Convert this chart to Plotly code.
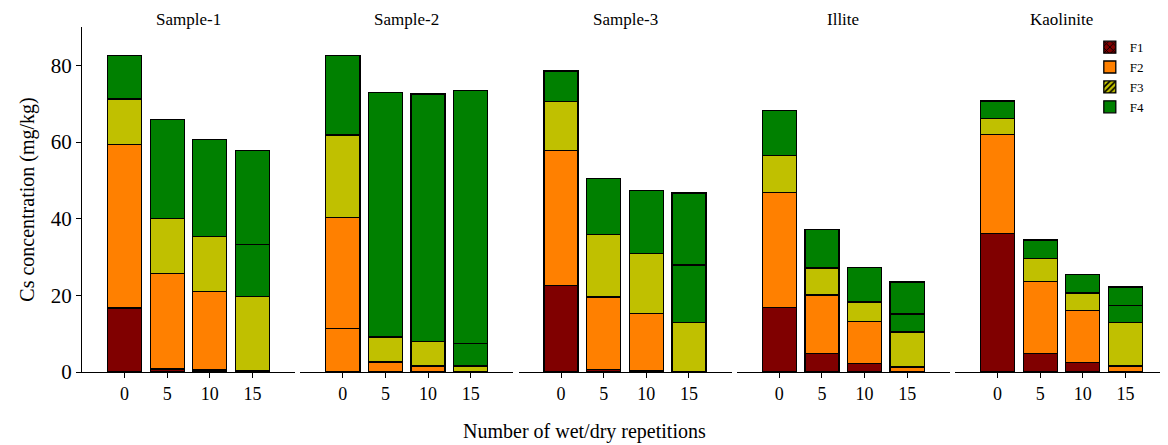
import plotly.graph_objects as go

# ---------------- data ----------------
categories = ["0", "5", "10", "15"]
panels = ["Sample-1", "Sample-2", "Sample-3", "Illite", "Kaolinite"]
fractions = ["F1", "F2", "F3", "F4"]

F1 = {
    "Sample-1": [16.7, 0.8, 0.5, 0.3],
    "Sample-2": [11.3, 0.0, 0.0, 0.0],
    "Sample-3": [22.6, 0.7, 0.3, 0.2],
    "Illite": [16.8, 4.8, 2.3, 1.3],
    "Kaolinite": [36.1, 4.8, 2.5, 1.6],
}
F2 = {
    "Sample-1": [42.7, 24.9, 20.5, 19.4],
    "Sample-2": [29.0, 2.6, 1.6, 1.6],
    "Sample-3": [35.2, 18.9, 14.9, 12.8],
    "Illite": [30.1, 15.3, 10.8, 9.1],
    "Kaolinite": [25.9, 18.9, 13.5, 11.4],
}
F3 = {
    "Sample-1": [11.8, 14.3, 14.3, 13.5],
    "Sample-2": [21.5, 6.5, 6.3, 5.8],
    "Sample-3": [12.8, 16.3, 15.8, 14.9],
    "Illite": [9.6, 7.0, 5.2, 4.7],
    "Kaolinite": [4.1, 6.0, 4.6, 4.3],
}
F4 = {
    "Sample-1": [11.4, 25.9, 25.4, 24.6],
    "Sample-2": [20.8, 63.9, 64.6, 66.0],
    "Sample-3": [7.9, 14.5, 16.4, 18.8],
    "Illite": [11.7, 10.1, 9.0, 8.4],
    "Kaolinite": [4.6, 4.7, 4.9, 4.9],
}
values = {"F1": F1, "F2": F2, "F3": F3, "F4": F4}

# colour in which each segment is drawn in the original figure
normal_cols = {"F1": ["F1", "F1", "F1", "F2"],
               "F2": ["F2", "F2", "F2", "F3"],
               "F3": ["F3", "F3", "F3", "F4"],
               "F4": ["F4", "F4", "F4", "F4"]}
drawn_as = {p: dict(normal_cols) for p in panels}
drawn_as["Sample-2"] = dict(normal_cols, F1=["F2", "F1", "F1", "F2"])

COLORS = {"F1": "#800000", "F2": "#FF8000", "F3": "#C0C000", "F4": "#008000"}

x_title = "Number of wet/dry repetitions"
y_title = "Cs concentration (mg/kg)"

# ---------------- figure ----------------
FONT = "Liberation Serif, Times New Roman, serif"
# page body has an 8px margin -> figure is 8px smaller than the window
W, H = 1160, 437
ml, mr, mt, mb = 74, 0, 19, 73
plot_w = W - ml - mr
plot_h = H - mt - mb
gap_px = 5.25
panel_px = (plot_w - 4 * gap_px) / 5

fig = go.Figure()
layout = dict(
    width=W, height=H,
    margin=dict(l=ml, r=mr, t=mt, b=mb),
    plot_bgcolor="white", paper_bgcolor="white",
    barmode="stack", bargap=0.2,
    font=dict(family=FONT, color="black"),
    showlegend=True,
    legend=dict(x=0.928, y=0.985, xanchor="left", yanchor="top",
                font=dict(size=13, family=FONT), bgcolor="rgba(0,0,0,0)",
                traceorder="normal", tracegroupgap=0, itemwidth=30),
)
annotations = []
for i, p in enumerate(panels):
    k = "" if i == 0 else str(i + 1)
    x0 = (i * (panel_px + gap_px)) / plot_w
    x1 = (i * (panel_px + gap_px) + panel_px) / plot_w
    layout["xaxis" + k] = dict(
        domain=[x0, x1], anchor="y" + k, type="category",
        categoryorder="array", categoryarray=categories,
        range=[-1, 4], showline=True, linecolor="black", linewidth=1,
        ticks="outside", ticklen=5, tickcolor="black",
        tickfont=dict(size=18, family=FONT), showgrid=False, zeroline=False,
    )
    ydict = dict(range=[0, 90], anchor="x" + k, showgrid=False, zeroline=False)
    if i == 0:
        ydict.update(showline=True, linecolor="black", linewidth=1,
                     ticks="outside", ticklen=5, tickcolor="black",
                     tickvals=[0, 20, 40, 60, 80],
                     tickfont=dict(size=21, family=FONT),
                     title=dict(text=y_title, font=dict(size=20, family=FONT), standoff=10))
    else:
        ydict.update(matches="y", showticklabels=False, showline=False, ticks="")
    layout["yaxis" + k] = ydict
    annotations.append(dict(text=p, x=(x0 + x1) / 2, y=1, xref="paper", yref="paper",
                            xanchor="center", yanchor="middle", yshift=8,
                            showarrow=False, font=dict(size=17, family=FONT)))

    for f in fractions:
        fig.add_trace(go.Bar(
            x=categories, y=values[f][p], name=f, showlegend=False,
            xaxis="x" + k, yaxis="y" + k,
            marker=dict(color=[COLORS[c] for c in drawn_as[p][f]],
                        line=dict(color="black", width=1.3)),
        ))

annotations.append(dict(text=x_title, x=0.463, y=-60 / plot_h,
                        xref="paper", yref="paper", xanchor="center", yanchor="middle",
                        showarrow=False, font=dict(size=20, family=FONT)))
layout["annotations"] = annotations

# legend entries (legend-only keys, patterned as in original legend)
patterns = {"F1": dict(shape="x", fgcolor="black", bgcolor=COLORS["F1"], size=6, solidity=0.35, fillmode="replace"),
            "F2": None,
            "F3": dict(shape="/", fgcolor="black", bgcolor=COLORS["F3"], size=5, solidity=0.4, fillmode="replace"),
            "F4": None}
for f in fractions:
    mk = dict(color=COLORS[f], line=dict(color="black", width=1.3))
    if patterns[f]:
        mk["pattern"] = patterns[f]
    fig.add_trace(go.Bar(x=[None], y=[None], name=f, marker=mk,
                         xaxis="x5", yaxis="y5", showlegend=True))

fig.update_layout(**layout)
fig.write_html("out.html")
